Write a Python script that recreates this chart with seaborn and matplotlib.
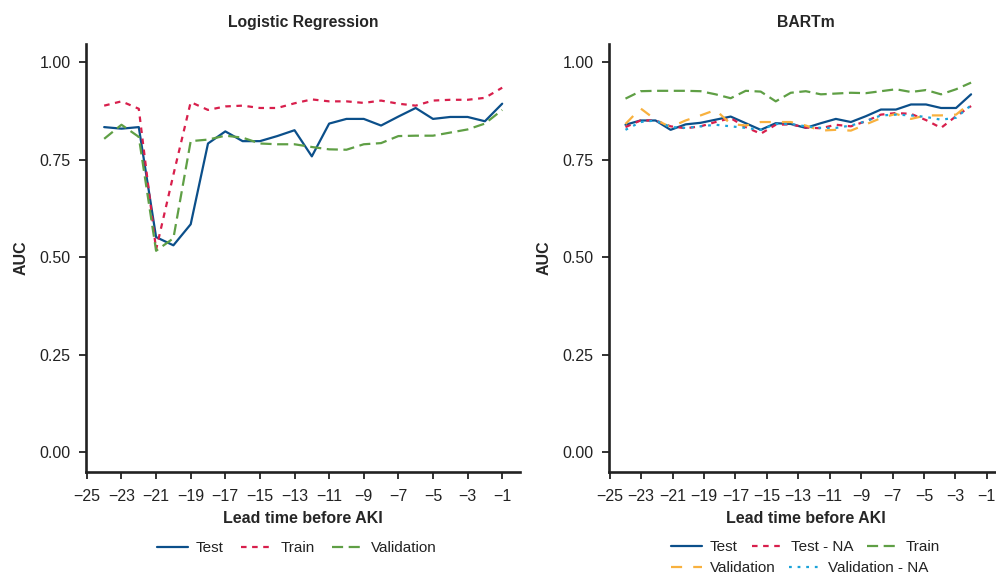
import numpy as np
import pandas as pd
import matplotlib
matplotlib.use("Agg")
import matplotlib.pyplot as plt
from matplotlib.lines import Line2D
import seaborn as sns

# ---- data -------------------------------------------------------------
lead_lr = [-24, -23, -22, -21, -20, -19, -18, -17, -16, -15, -14, -13,
           -12, -11, -10, -9, -8, -7, -6, -5, -4, -3, -2, -1]
lr_test = [0.834, 0.830, 0.834, 0.552, 0.531, 0.585, 0.792, 0.823, 0.798, 0.798,
           0.811, 0.826, 0.759, 0.843, 0.855, 0.855, 0.838, 0.861, 0.883, 0.855,
           0.860, 0.860, 0.849, 0.894]
lr_train = [0.889, 0.900, 0.881, 0.520, 0.712, 0.898, 0.878, 0.887, 0.889, 0.883,
            0.883, 0.895, 0.905, 0.900, 0.900, 0.896, 0.902, 0.894, 0.889, 0.902,
            0.904, 0.904, 0.909, 0.935]
lr_val = [0.804, 0.840, 0.809, 0.517, 0.549, 0.798, 0.802, 0.812, 0.807, 0.792,
          0.790, 0.790, 0.783, 0.777, 0.776, 0.790, 0.793, 0.811, 0.812, 0.812,
          0.820, 0.828, 0.843, 0.878]

# BART time points are spread evenly over the -24 .. -2 window
lead_bart = list(np.linspace(-24, -2, 24))
bart_test = [0.840, 0.851, 0.851, 0.827, 0.841, 0.845, 0.853, 0.861, 0.844, 0.827,
             0.844, 0.842, 0.832, 0.844, 0.855, 0.847, 0.862, 0.879, 0.879, 0.892,
             0.892, 0.883, 0.883, 0.918]
bart_test_na = [0.834, 0.851, 0.851, 0.836, 0.831, 0.836, 0.847, 0.857, 0.834, 0.817,
                0.840, 0.841, 0.833, 0.831, 0.840, 0.836, 0.849, 0.866, 0.870, 0.868,
                0.852, 0.832, 0.862, 0.888]
bart_train = [0.907, 0.926, 0.927, 0.927, 0.927, 0.926, 0.918, 0.908, 0.927, 0.925,
              0.900, 0.922, 0.926, 0.918, 0.920, 0.922, 0.921, 0.926, 0.931, 0.924,
              0.929, 0.918, 0.931, 0.948]
bart_val = [0.842, 0.882, 0.853, 0.834, 0.851, 0.864, 0.878, 0.842, 0.838, 0.847,
            0.847, 0.847, 0.838, 0.825, 0.827, 0.825, 0.841, 0.857, 0.868, 0.855,
            0.864, 0.864, 0.866, 0.897]
bart_val_na = [0.827, 0.847, 0.851, 0.834, 0.832, 0.836, 0.840, 0.836, 0.832, 0.827,
               0.842, 0.842, 0.836, 0.832, 0.832, 0.838, 0.849, 0.864, 0.866, 0.864,
               0.860, 0.853, 0.858, 0.890]

x_ticks = [-25, -23, -21, -19, -17, -15, -13, -11, -9, -7, -5, -3, -1]
y_ticks = [0.00, 0.25, 0.50, 0.75, 1.00]

# ---- styling ----------------------------------------------------------
BLUE, RED, GREEN, ORANGE, CYAN = "#0B4F8A", "#D81F4C", "#5F9F45", "#F8B13E", "#1BA3D9"
LW = 1.6
U = 1.25  # dash unit

sns.set_style("ticks")
plt.rcParams["font.family"] = ["Liberation Sans", "DejaVu Sans"]
plt.rcParams["axes.unicode_minus"] = True

lr_df = pd.DataFrame({
    "lead": lead_lr * 3,
    "auc": lr_test + lr_train + lr_val,
    "set": ["Test"] * 24 + ["Train"] * 24 + ["Validation"] * 24,
})
lr_levels = ["Test", "Train", "Validation"]
lr_colors = {"Test": BLUE, "Train": RED, "Validation": GREEN}
lr_dashes = {"Test": "", "Train": (2 * U, 2 * U), "Validation": (4 * U, 2 * U)}

bart_levels = ["Test", "Test - NA", "Train", "Validation", "Validation - NA"]
bart_df = pd.DataFrame({
    "lead": lead_bart * 5,
    "auc": bart_test + bart_test_na + bart_train + bart_val + bart_val_na,
    "set": sum([[lv] * 24 for lv in bart_levels], []),
})
bart_colors = {"Test": BLUE, "Test - NA": RED, "Train": GREEN,
               "Validation": ORANGE, "Validation - NA": CYAN}
bart_dashes = {"Test": "", "Test - NA": (2 * U, 2 * U), "Train": (4 * U, 2 * U),
               "Validation": (4 * U, 4 * U), "Validation - NA": (1.0 * U, 2.1 * U)}

fig = plt.figure(figsize=(9.96, 5.78), dpi=100)
ax1 = fig.add_axes([86 / 996, 1 - 472 / 578, (519.5 - 86) / 996, (472 - 44) / 578])
ax2 = fig.add_axes([609 / 996, 1 - 472 / 578, (1002.5 - 609) / 996, (472 - 44) / 578])

sns.lineplot(data=lr_df, x="lead", y="auc", hue="set", style="set",
             hue_order=lr_levels, style_order=lr_levels,
             palette=lr_colors, dashes=lr_dashes, linewidth=LW,
             legend=False, ax=ax1)
sns.lineplot(data=bart_df, x="lead", y="auc", hue="set", style="set",
             hue_order=bart_levels, style_order=bart_levels,
             palette=bart_colors, dashes=bart_dashes, linewidth=LW,
             legend=False, ax=ax2)

for ax, title in [(ax1, "Logistic Regression"), (ax2, "BARTm")]:
    ax.set_xlim(-25.05, 0)
    ax.set_ylim(-0.05, 1.047)
    ax.set_xticks(x_ticks)
    ax.set_yticks(y_ticks)
    ax.set_yticklabels([f"{v:.2f}" for v in y_ticks])
    ax.tick_params(axis="both", labelsize=11.5, length=5, width=1.3,
                   color="#222222", labelcolor="#222222", pad=6)
    ax.tick_params(axis="x", pad=7)
    for side in ["left", "bottom"]:
        ax.spines[side].set_linewidth(1.9)
        ax.spines[side].set_color("#222222")
    sns.despine(ax=ax)
    ax.set_xlabel("Lead time before AKI", fontsize=11.5, fontweight="bold",
                  labelpad=5)
    ax.set_ylabel("AUC", fontsize=11.5, fontweight="bold", labelpad=8)
    ax.set_title(title, fontsize=11.3, fontweight="bold", pad=12)


def handles(levels, colors, dashes):
    out = []
    for lv in levels:
        h = Line2D([], [], color=colors[lv], linewidth=LW)
        if dashes[lv]:
            h.set_dashes(dashes[lv])
        out.append(h)
    return out


leg_kw = dict(frameon=False, fontsize=11, handlelength=2.0, handletextpad=0.55,
              borderpad=0, borderaxespad=0, labelcolor="#222222")

fig.legend(handles(lr_levels, lr_colors, lr_dashes), lr_levels,
           loc="center left", bbox_to_anchor=(157 / 996, 1 - 548 / 578),
           ncol=3, columnspacing=1.15, **leg_kw)

row1 = ["Test", "Test - NA", "Train"]
row2 = ["Validation", "Validation - NA"]
fig.legend(handles(row1, bart_colors, bart_dashes), row1,
           loc="center left", bbox_to_anchor=(671 / 996, 1 - 547 / 578),
           ncol=3, columnspacing=0.9, **leg_kw)
fig.legend(handles(row2, bart_colors, bart_dashes), row2,
           loc="center left", bbox_to_anchor=(671 / 996, 1 - 568 / 578),
           ncol=2, columnspacing=0.85, **leg_kw)

fig.savefig("out.png", dpi=100)
